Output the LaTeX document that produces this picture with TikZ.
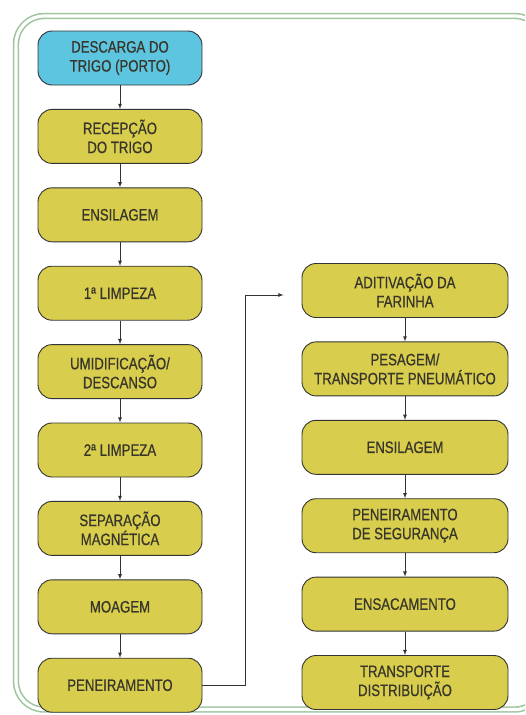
\documentclass[tikz,border=0pt]{standalone}
\usepackage{fontspec}
\setmainfont{Liberation Sans}[FakeStretch=0.8, FakeBold=0.6]
\usetikzlibrary{positioning}

\definecolor{trigo}{HTML}{5DC5E0}
\definecolor{etapa}{HTML}{D8CD4C}
\definecolor{moldura}{HTML}{9FC69F}
\definecolor{texto}{HTML}{38362A}

\tikzset{
  etapabox/.style={draw=black!80, line width=0.9pt, fill=etapa, rounded corners=14pt,
    minimum height=54pt, inner sep=0pt, align=center, text=texto,
    font=\fontsize{16.5}{19}\selectfont},
  colesq/.style={etapabox, minimum width=164pt},
  coldir/.style={etapabox, minimum width=206pt},
  seta/.style={-latex, line width=0.8pt, black!80},
}

\begin{document}
\begin{tikzpicture}[x=1pt, y=-1pt]
        \useasboundingbox (0,0) rectangle (525,715);
        \clip (0,0) rectangle (525,715);

        % moldura (o lado direito fica fora da figura)
        \draw[overlay, moldura, line width=1.6pt, double=white, double distance=3.2pt, rounded corners=28pt]
            (543,80) -- (543,16) -- (16,16) -- (16,709.5) -- (543,709.5) -- (543,640);

        % coluna da esquerda
        \node[colesq, fill=trigo] (descarga) at (120,58) {DESCARGA DO\\TRIGO (PORTO)};
        \node[colesq, below=23.5pt of descarga] (recepcao) {RECEPÇÃO\\DO TRIGO};
        \node[colesq, below=23.5pt of recepcao] (ensilagemA) {ENSILAGEM};
        \node[colesq, below=23.5pt of ensilagemA] (limpezaA) {1ª LIMPEZA};
        \node[colesq, below=23.5pt of limpezaA] (umidificacao) {UMIDIFICAÇÃO/\\DESCANSO};
        \node[colesq, below=23.5pt of umidificacao] (limpezaB) {2ª LIMPEZA};
        \node[colesq, below=23.5pt of limpezaB] (separacao) {SEPARAÇÃO\\MAGNÉTICA};
        \node[colesq, below=23.5pt of separacao] (moagem) {MOAGEM};
        \node[colesq, below=23.5pt of moagem] (peneiramentoA) {PENEIRAMENTO};

        % coluna da direita
        \node[coldir] (aditivacao) at (405,290.5) {ADITIVAÇÃO DA\\FARINHA};
        \node[coldir, below=23.5pt of aditivacao] (pesagem) {PESAGEM/\\TRANSPORTE PNEUMÁTICO};
        \node[coldir, below=23.5pt of pesagem] (ensilagemB) {ENSILAGEM};
        \node[coldir, below=23.5pt of ensilagemB] (peneiramentoB) {PENEIRAMENTO\\DE SEGURANÇA};
        \node[coldir, below=23.5pt of peneiramentoB] (ensacamento) {ENSACAMENTO};
        \node[coldir, below=23.5pt of ensacamento] (transporte) {TRANSPORTE\\DISTRIBUIÇÃO};

        % setas
        \draw[seta] (descarga) -- (recepcao);
        \draw[seta] (recepcao) -- (ensilagemA);
        \draw[seta] (ensilagemA) -- (limpezaA);
        \draw[seta] (limpezaA) -- (umidificacao);
        \draw[seta] (umidificacao) -- (limpezaB);
        \draw[seta] (limpezaB) -- (separacao);
        \draw[seta] (separacao) -- (moagem);
        \draw[seta] (moagem) -- (peneiramentoA);
        \draw[seta, shorten >=18pt] (peneiramentoA.east) -- ++(43,0) |- ([yshift=-4.5pt]aditivacao.west);
        \draw[seta] (aditivacao) -- (pesagem);
        \draw[seta] (pesagem) -- (ensilagemB);
        \draw[seta] (ensilagemB) -- (peneiramentoB);
        \draw[seta] (peneiramentoB) -- (ensacamento);
        \draw[seta] (ensacamento) -- (transporte);

    \end{tikzpicture}
\end{document}
